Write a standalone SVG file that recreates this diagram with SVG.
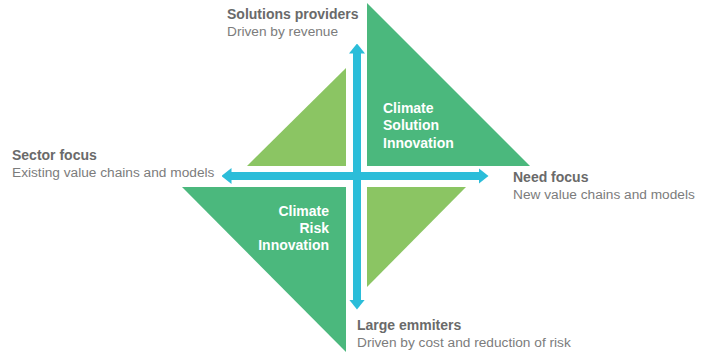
<svg xmlns="http://www.w3.org/2000/svg" width="701" height="356" viewBox="0 0 701 356">
<style>
.dark{fill:#4bb87d}
.light{fill:#8bc563}
.arr{stroke:#2bbdd9;stroke-width:8;fill:none}
.t{font-family:"Liberation Sans",Arial,sans-serif;font-size:14px}
.h{font-weight:bold;fill:#6a6a6a}
.s{fill:#7c7c7c;font-size:13.7px}
.w{font-weight:bold;fill:#ffffff}
</style>
<defs>
<marker id="ah" viewBox="0 0 10 16" refX="0.5" refY="8" markerWidth="10" markerHeight="16" markerUnits="userSpaceOnUse" orient="auto-start-reverse">
<path d="M0,0 L10,8 L0,16 Z" fill="#2bbdd9"/>
</marker>
</defs>
<rect width="701" height="356" fill="#ffffff"/>
<g id="climate-solution-innovation">
<polygon class="dark" points="367,3 367,166 530,166"/>
<text class="t w" x="383" y="113">Climate</text>
<text class="t w" x="383" y="130">Solution</text>
<text class="t w" x="383" y="148">Innovation</text>
</g>
<g id="top-left-quadrant">
<polygon class="light" points="346,68 346,166 247,166"/>
</g>
<g id="climate-risk-innovation">
<polygon class="dark" points="182,187 346,187 346,352"/>
<text class="t w" x="329" y="216" text-anchor="end">Climate</text>
<text class="t w" x="329" y="233" text-anchor="end">Risk</text>
<text class="t w" x="329" y="250" text-anchor="end">Innovation</text>
</g>
<g id="bottom-right-quadrant">
<polygon class="light" points="367,187 466,187 367,287"/>
</g>
<g id="connectors">
<line class="arr" x1="357" y1="53" x2="357" y2="300" marker-start="url(#ah)" marker-end="url(#ah)"/>
<line class="arr" x1="231" y1="176" x2="479" y2="176" marker-start="url(#ah)" marker-end="url(#ah)"/>
</g>
<g id="solutions-providers">
<text class="t h" x="227" y="19">Solutions providers</text>
<text class="t s" x="227" y="36">Driven by revenue</text>
</g>
<g id="sector-focus">
<text class="t h" x="12" y="160">Sector focus</text>
<text class="t s" x="12" y="177">Existing value chains and models</text>
</g>
<g id="need-focus">
<text class="t h" x="513" y="182">Need focus</text>
<text class="t s" x="513" y="199">New value chains and models</text>
</g>
<g id="large-emmiters">
<text class="t h" x="357" y="330">Large emmiters</text>
<text class="t s" x="357" y="347">Driven by cost and reduction of risk</text>
</g>
</svg>
